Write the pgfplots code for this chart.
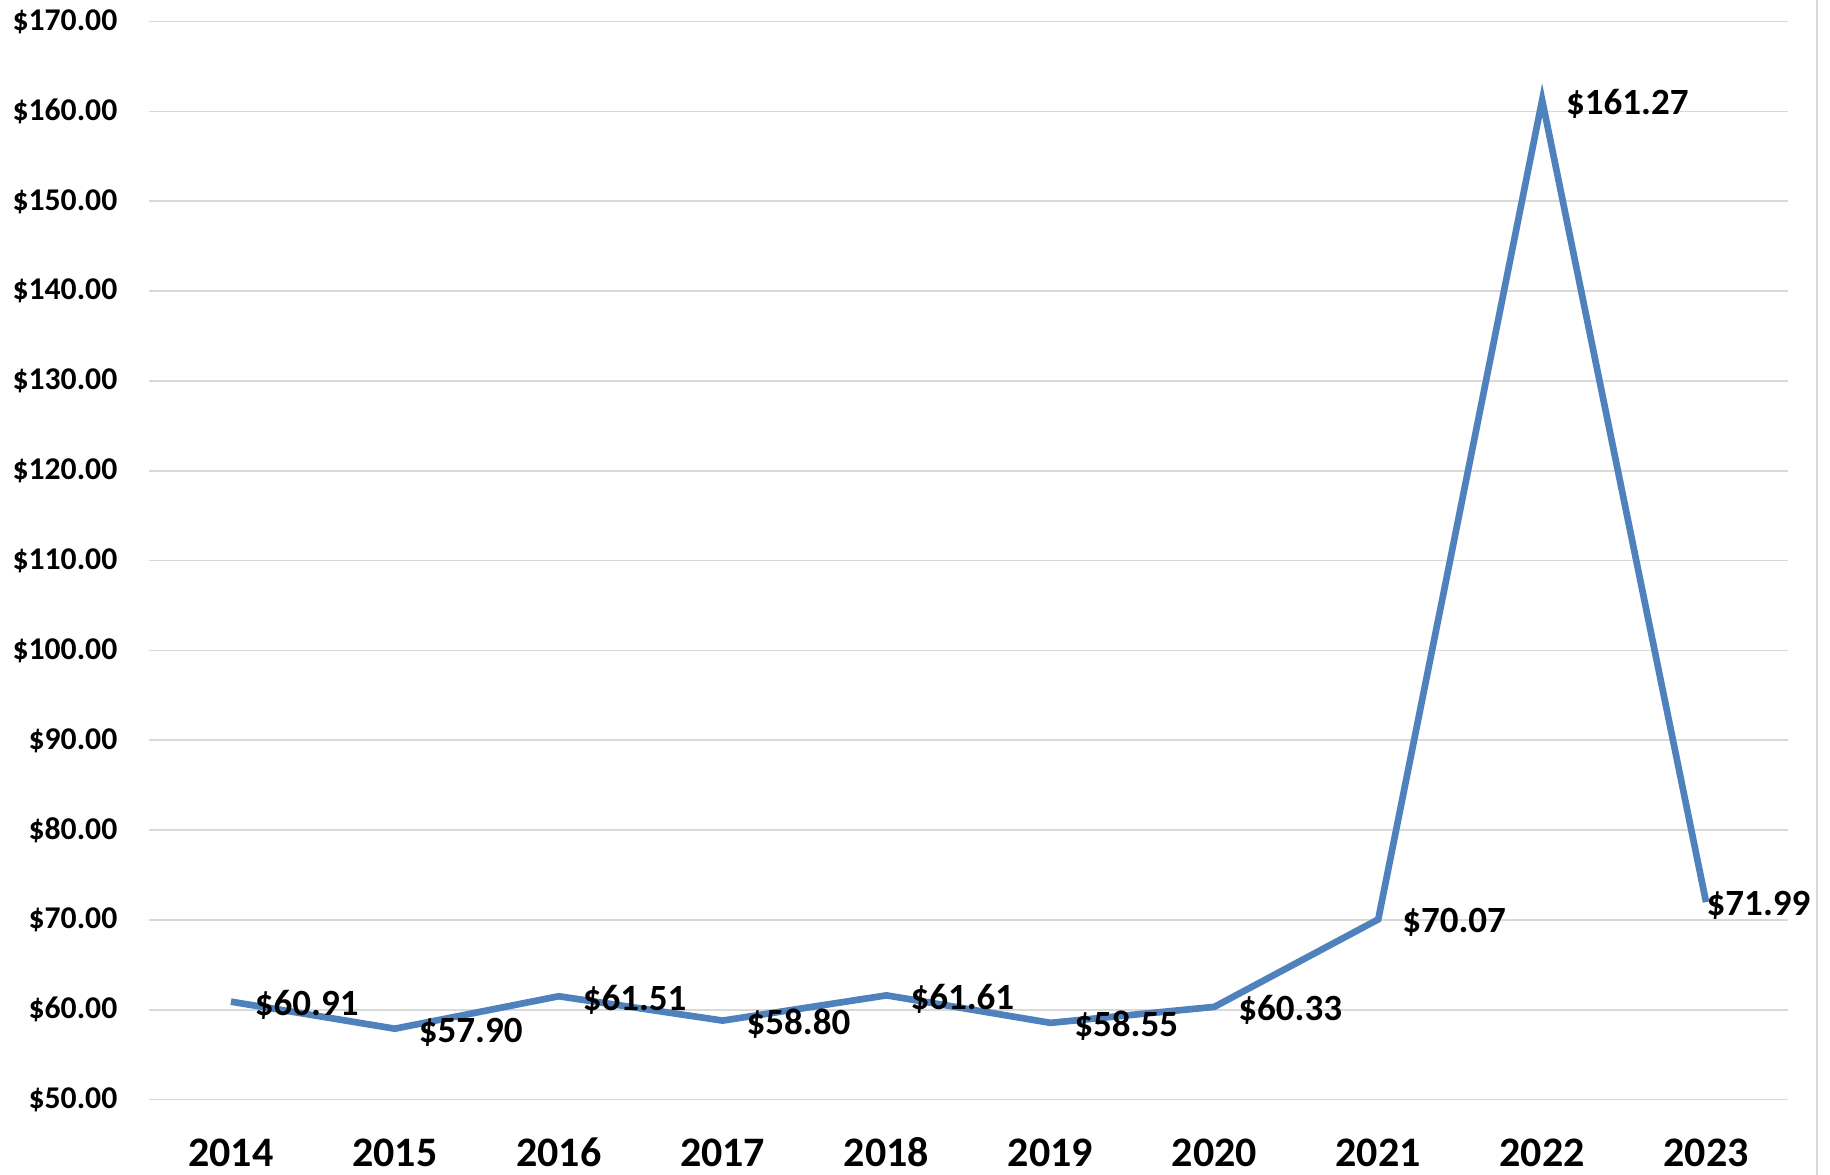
\documentclass[border=0pt]{standalone}
\usepackage{fontspec}
\setmainfont{Carlito}
\usepackage{pgfplots}
\pgfplotsset{compat=1.18}
\usepackage{pgfplotstable}
\definecolor{lineblue}{HTML}{4F81BD}
\definecolor{gridgray}{HTML}{D9D9D9}

\pgfplotstableread{
x  price   shift
0  60.91   7
1  57.90   7
2  61.51   7
3  58.80   7
4  61.61   7
5  58.55   7
6  60.33   7
7  70.07   7
8  161.27  7
9  71.99   0
}\prices

\begin{document}
\begin{tikzpicture}
\useasboundingbox (0,0) rectangle (549pt,352.5pt);
\draw[gridgray, line width=0.5pt] (545.1pt,0) -- (545.1pt,352.5pt);
\begin{axis}[
    at={(44.7pt,22.6pt)}, anchor=south west,
    scale only axis,
    width=491.7pt, height=323.4pt,
    xmin=-0.5, xmax=9.5,
    ymin=50, ymax=170,
    ytick distance=10,
    xtick=data,
    xticklabels={2014,2015,2016,2017,2018,2019,2020,2021,2022,2023},
    axis line style={draw=none},
    major tick length=0pt,
    ymajorgrids,
    grid style={gridgray, line width=0.5pt},
    /pgf/number format/assume math mode=true,
    yticklabel={\$\pgfmathprintnumber[fixed,fixed zerofill,precision=2]{\tick}},
    yticklabel style={font=\fontsize{9.5}{11}\selectfont\bfseries, anchor=east, inner sep=0pt, xshift=-9.3pt},
    xticklabel style={font=\fontsize{12.6}{14}\selectfont\bfseries, anchor=base, inner sep=0pt, yshift=-20.2pt},
    clip=false,
]
\addplot[lineblue, line width=2pt, mark=none] table[x=x, y=price] {\prices};
\addplot[draw=none, mark=none,
    point meta=y,
    visualization depends on={\thisrow{shift} \as \lblshift},
    nodes near coords={\$\pgfmathprintnumber[fixed,fixed zerofill,precision=2]{\pgfplotspointmeta}},
    every node near coord/.append style={font=\fontsize{11.1}{13}\selectfont\bfseries, anchor=west, inner sep=0pt, xshift=\lblshift pt, yshift=-1pt, black},
] table[x=x, y=price] {\prices};
\end{axis}
\end{tikzpicture}
\end{document}
